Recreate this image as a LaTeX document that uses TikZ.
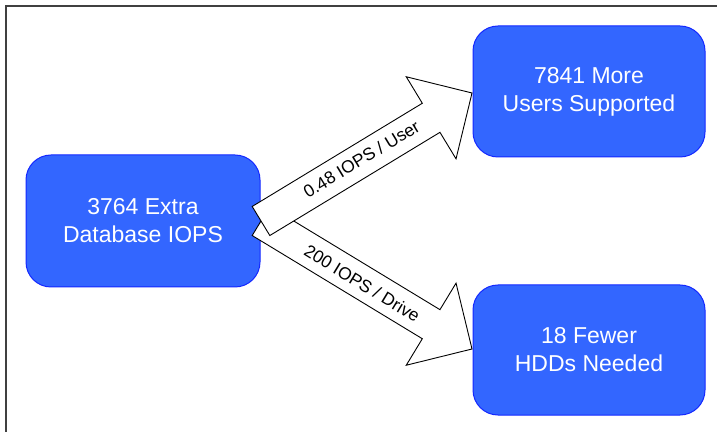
\documentclass[tikz,border=0pt]{standalone}
\usepackage{fontspec}
\setmainfont{Liberation Sans}
\definecolor{boxfill}{RGB}{51,102,255}
\definecolor{boxline}{RGB}{20,40,255}
\definecolor{framegray}{RGB}{64,64,64}
\tikzset{
  bluebox/.style={draw=boxline, line width=1pt, fill=boxfill, rounded corners=25pt,
    text=white, align=center, font=\fontsize{23}{28}\selectfont, inner sep=0pt},
  blockarrow/.style={draw=black, fill=white, line width=0.9pt, line join=miter},
  arrowlabel/.style={font=\fontsize{17.5}{20}\selectfont, text=black, inner sep=0pt, transform shape}
}
\begin{document}
\begin{tikzpicture}[x=1pt,y=1pt]
\useasboundingbox (0,0) rectangle (717,431);
\fill[white] (0,0) rectangle (717,431);
% frame
\draw[framegray, line width=2pt] (6,-5) -- (6,425) -- (722,425);
% boxes
\node[bluebox, minimum width=234pt, minimum height=132pt] (src) at (143,210) {3764 Extra\\Database IOPS};
\node[bluebox, minimum width=232pt, minimum height=131pt] (users) at (589,339.5) {7841 More\\Users Supported};
\node[bluebox, minimum width=232pt, minimum height=130pt] (hdd) at (589,81) {18 Fewer\\HDDs Needed};
\coordinate (s) at (261,210);
% lower arrow
\begin{scope}[shift={(s)}, rotate=-31.24]
  \draw[blockarrow] (0,17) -- (199,17) -- (199,48) -- (246.8,0) coordinate (tiplow) -- (199,-48) -- (199,-17) -- (0,-17) -- cycle;
  \node[arrowlabel] (lbllow) at (119,-1) {200 IOPS / Drive};
\end{scope}
% upper arrow
\begin{scope}[shift={(s)}, rotate=31.24]
  \draw[blockarrow] (0,17) -- (199,17) -- (199,48) -- (246.8,0) coordinate (tipup) -- (199,-48) -- (199,-17) -- (0,-17) -- cycle;
  \node[arrowlabel] (lblup) at (118,1) {0.48 IOPS / User};
\end{scope}
\end{tikzpicture}
\end{document}
